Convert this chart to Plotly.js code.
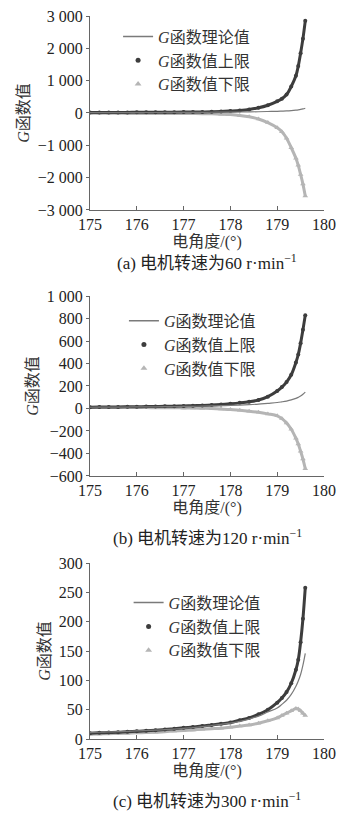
<!DOCTYPE html>
<html>
<head>
<meta charset="utf-8">
<script src="https://cdn.plot.ly/plotly-3.0.1.min.js"></script>
<style>html,body{margin:0;padding:0;background:#fff;}#chart{width:345px;height:815px;}</style>
</head>
<body>
<div id="chart"></div>
<script>
// electrical angle (degrees)
const angle = [175.0,175.2,175.4,175.6,175.8,176.0,176.2,176.4,176.6,176.8,177.0,177.2,177.4,177.6,177.8,178.0,178.2,178.4,178.6,178.8,179.0,179.1,179.2,179.3,179.4,179.45,179.5,179.55,179.6];
// theoretical G value
const gTheory = [11,11.5,12,12.5,13,14,14.5,15,16,17,18,19.5,21,23,25,27,30,34,39,46,53,59,66,76,90,99,110,126,146];
// (a) 60 r/min
const upperA = [15,16,17,18,19,20,21,22,23,25,27,29,32,36,44,60,80,110,160,240,360,440,570,820,1150,1450,1850,2300,2850];
const lowerA = [-10,-10,-11,-11,-12,-12,-13,-13,-14,-15,-16,-18,-21,-27,-36,-50,-75,-115,-185,-295,-455,-580,-780,-1075,-1400,-1620,-1900,-2200,-2570];
// (b) 120 r/min
const upperB = [12,13,13.5,14,15,16,17,18,19,21,23,25,27,30,35,42,50,60,75,105,155,190,235,300,410,480,580,700,830];
const lowerB = [8,8,8,8,8,8,8,7,7,6,5,4,2,0,-4,-10,-16,-24,-34,-48,-65,-90,-130,-185,-265,-315,-380,-450,-535];
// (c) 300 r/min
const upperC = [10,10.5,11,11.5,12.5,13,14,15,16,17.5,19,20.5,22,24,26,28,32,36,42,50,62,70,80,95,118,135,165,205,258];
const lowerC = [8,8.5,9,9.5,10,10.5,11,11.5,12.5,13.5,14.5,15.5,16.5,17.5,18.5,20,22,24,27,31,36,40,44,48,52,51,48,44,40];

const xTicks = [175,176,177,178,179,180];
const yTickValsA = [-3000,-2000,-1000,0,1000,2000,3000];
const yTickTextA = ['\u22123 000','\u22122 000','\u22121 000','0','1 000','2 000','3 000'];
const yTickValsB = [-600,-400,-200,0,200,400,600,800,1000];
const yTickTextB = ['\u2212600','\u2212400','\u2212200','0','200','400','600','800','1 000'];
const yTickValsC = [0,50,100,150,200,250,300];
const yTickTextC = ['0','50','100','150','200','250','300'];

const legendNames = ['<i>G</i>函数理论值','<i>G</i>函数值上限','<i>G</i>函数值下限'];
const captions = ['(a) 电机转速为60 r·min<sup>\u22121</sup>','(b) 电机转速为120 r·min<sup>\u22121</sup>','(c) 电机转速为300 r·min<sup>\u22121</sup>'];

const FONT = 'Liberation Serif, Times New Roman, Noto Sans CJK SC, serif';
const cUpper = '#3d3d3d', cLower = '#b5b5b5', cTheory = '#7a7a7a';

const panels = [
  {up: upperA, lo: lowerA, xa: 'x', ya: 'y', lg: 'legend'},
  {up: upperB, lo: lowerB, xa: 'x2', ya: 'y2', lg: 'legend2'},
  {up: upperC, lo: lowerC, xa: 'x3', ya: 'y3', lg: 'legend3'}
];

const traces = [];
panels.forEach(p => {
  traces.push({x: angle, y: p.lo, xaxis: p.xa, yaxis: p.ya, mode: 'lines+markers', showlegend: false,
    line: {color: cLower, width: 3, shape: 'spline'}, marker: {symbol: 'triangle-up', size: 5, color: cLower}});
  traces.push({x: angle, y: p.up, xaxis: p.xa, yaxis: p.ya, mode: 'lines+markers', showlegend: false,
    line: {color: cUpper, width: 3, shape: 'spline'}, marker: {symbol: 'circle', size: 4, color: cUpper}});
  traces.push({x: angle, y: gTheory, xaxis: p.xa, yaxis: p.ya, mode: 'lines', showlegend: false,
    line: {color: cTheory, width: 1.2, shape: 'spline'}});
  // legend entries
  traces.push({x: [null], y: [null], xaxis: p.xa, yaxis: p.ya, mode: 'lines', name: legendNames[0], legend: p.lg,
    line: {color: cTheory, width: 1.5}});
  traces.push({x: [null], y: [null], xaxis: p.xa, yaxis: p.ya, mode: 'markers', name: legendNames[1], legend: p.lg,
    marker: {symbol: 'circle', size: 5, color: cUpper}});
  traces.push({x: [null], y: [null], xaxis: p.xa, yaxis: p.ya, mode: 'markers', name: legendNames[2], legend: p.lg,
    marker: {symbol: 'triangle-up', size: 6, color: cLower}});
});

function xAxis(anchor) {
  return {anchor: anchor, domain: [0, 1], range: [175, 180], tickvals: xTicks, ticktext: xTicks.map(String),
    showline: true, linecolor: '#666', linewidth: 1, ticks: 'inside', ticklen: 4, tickcolor: '#666',
    showgrid: false, zeroline: false, tickfont: {family: FONT, size: 16, color: '#222'},
    title: {text: '电角度/(°)', font: {family: FONT, size: 16, color: '#333'}, standoff: 2}};
}
function yAxis(anchor, dom, rng, vals, txt) {
  return {anchor: anchor, domain: dom, range: rng, tickvals: vals, ticktext: txt,
    showline: true, linecolor: '#666', linewidth: 1, ticks: 'outside', ticklen: 3, tickcolor: '#666',
    showgrid: false, zeroline: false, tickfont: {family: FONT, size: 16, color: '#222'},
    title: {text: '<i>G</i>函数值', font: {family: FONT, size: 16, color: '#333'}, standoff: 4}};
}

const legendBase = {font: {family: FONT, size: 16, color: '#333'}, bgcolor: 'rgba(0,0,0,0)', xanchor: 'left', yanchor: 'top', itemwidth: 30, tracegroupgap: 0};

const layout = {
  width: 345, height: 815,
  margin: {l: 90, r: 21, t: 16, b: 76},
  paper_bgcolor: '#fff', plot_bgcolor: '#fff',
  font: {family: FONT, color: '#333'},
  xaxis: xAxis('y'),
  yaxis: yAxis('x', [0.7317, 1.0], [-3000, 3000], yTickValsA, yTickTextA),
  xaxis2: xAxis('y2'),
  yaxis2: yAxis('x2', [0.3638, 0.6127], [-600, 1000], yTickValsB, yTickTextB),
  xaxis3: xAxis('y3'),
  yaxis3: yAxis('x3', [0, 0.2434], [0, 300], yTickValsC, yTickTextC),
  legend: Object.assign({}, legendBase, {x: 0.12, y: 0.995}),
  legend2: Object.assign({}, legendBase, {x: 0.145, y: 0.602}),
  legend3: Object.assign({}, legendBase, {x: 0.165, y: 0.212}),
  annotations: [
    {text: captions[0], xref: 'paper', yref: 'paper', x: 0.5, y: 0.6598, xanchor: 'center', yanchor: 'middle', showarrow: false, font: {family: FONT, size: 17, color: '#222'}},
    {text: captions[1], xref: 'paper', yref: 'paper', x: 0.5, y: 0.2794, xanchor: 'center', yanchor: 'middle', showarrow: false, font: {family: FONT, size: 17, color: '#222'}},
    {text: captions[2], xref: 'paper', yref: 'paper', x: 0.5, y: -0.0844, xanchor: 'center', yanchor: 'middle', showarrow: false, font: {family: FONT, size: 17, color: '#222'}}
  ],
  showlegend: true
};

Plotly.newPlot('chart', traces, layout, {staticPlot: true, displayModeBar: false});
</script>
</body>
</html>
